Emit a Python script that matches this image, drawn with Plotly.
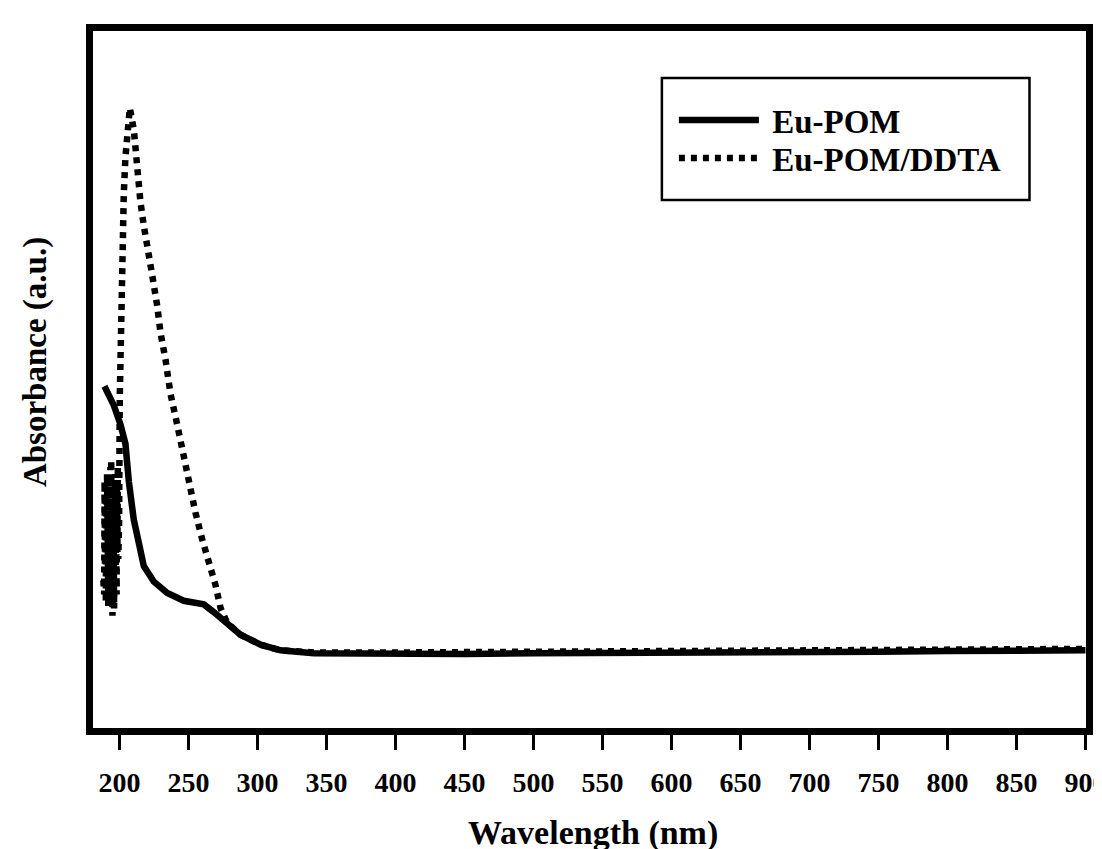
import plotly.graph_objects as go

# ---- data ----
wl_pom = [189.1, 195.9, 200.7, 204.3, 206.8, 210.4, 214.0, 217.6, 224.9, 234.6,
          246.6, 261.1, 268.3, 278.0, 287.7, 302.2, 316.7, 340.8, 400, 450, 500,
          550, 600, 650, 700, 750, 800, 850, 900]
abs_pom = [0.494, 0.467, 0.440, 0.413, 0.359, 0.305, 0.273, 0.240, 0.218, 0.202,
           0.191, 0.186, 0.175, 0.159, 0.143, 0.129, 0.121, 0.117, 0.116, 0.116, 0.117,
           0.117, 0.118, 0.118, 0.119, 0.119, 0.120, 0.120, 0.121]

wl_ddta = [188.3, 188.6, 188.9, 189.2, 189.5, 189.8, 190.1, 190.4, 190.7,
           191.0, 191.3, 191.6, 191.9, 192.2, 192.5, 192.8, 193.1, 193.4, 193.7,
           194.0, 194.3, 194.6, 194.9, 195.2, 195.5, 195.8, 196.1, 196.4, 196.7,
           197.0, 197.3, 197.6, 197.9, 198.2, 198.5, 198.8, 199.1, 199.4, 199.7,
           200.2, 200.7, 201.2, 201.9, 202.7, 203.1, 204.3, 205.6, 207.5, 210.4,
           211.6, 213.3, 215.2, 217.6, 221.2, 223.7, 227.3, 229.7, 233.3, 237.0,
           241.8, 245.4, 250.2, 255.0, 259.9, 264.7, 269.6, 273.2, 278.0, 287.7,
           302.2, 316.7, 340.8, 400, 500, 600, 700, 800, 900]
abs_ddta = [0.22, 0.33, 0.20, 0.36, 0.24, 0.31, 0.19, 0.34, 0.23,
            0.37, 0.21, 0.29, 0.18, 0.35, 0.25, 0.32, 0.20, 0.38, 0.22,
            0.39, 0.19, 0.33, 0.17, 0.36, 0.23, 0.31, 0.18, 0.34, 0.21,
            0.37, 0.24, 0.30, 0.20, 0.35, 0.26, 0.38, 0.25, 0.36, 0.30,
            0.478, 0.548, 0.602, 0.657, 0.710, 0.765, 0.818, 0.856, 0.887, 0.856,
            0.824, 0.786, 0.754, 0.721, 0.684, 0.651, 0.608, 0.570, 0.532, 0.483,
            0.440, 0.403, 0.364, 0.316, 0.278, 0.246, 0.213, 0.181, 0.160, 0.143,
            0.129, 0.121, 0.118, 0.118, 0.119, 0.120, 0.121, 0.122, 0.123]

x_ticks = [200, 250, 300, 350, 400, 450, 500, 550, 600, 650, 700, 750, 800, 850, 900]
series_names = ["Eu-POM", "Eu-POM/DDTA"]
x_title = "Wavelength (nm)"
y_title = "Absorbance (a.u.)"

FONT = "Liberation Serif"
BLACK = "black"

fig = go.Figure()
fig.add_trace(go.Scatter(x=wl_pom, y=abs_pom, mode="lines", name="\u00a0" + series_names[0],
                         legend="legend",
                         line=dict(color=BLACK, width=6.5)))
fig.add_trace(go.Scatter(x=wl_ddta, y=abs_ddta, mode="lines", name="\u00a0" + series_names[1],
                         legend="legend2",
                         line=dict(color=BLACK, width=6.5, dash="6px,6px")))

# legend frame
fig.add_shape(type="rect", xref="paper", yref="paper",
              x0=0.5729, x1=0.9431, y0=0.7575, y1=0.9326,
              line=dict(color=BLACK, width=2.5), fillcolor="rgba(0,0,0,0)")

leg_font = dict(family=FONT, size=33, color=BLACK, weight="bold")

fig.add_annotation(text=y_title, xref="paper", yref="paper", x=-0.0578, y=0.5244,
                   xanchor="center", yanchor="middle", textangle=-90, showarrow=False,
                   font=dict(family=FONT, size=33, color=BLACK, weight="bold"))
fig.add_annotation(text=x_title, xref="paper", yref="paper", x=0.5035, y=-0.151,
                   xanchor="center", yanchor="middle", showarrow=False,
                   font=dict(family=FONT, size=34, color=BLACK, weight="bold"))

fig.update_layout(
    width=1086, height=849,
    paper_bgcolor="white", plot_bgcolor="white",
    margin=dict(l=84.5, r=7.5, t=23, b=129),
    font=dict(family=FONT, color=BLACK),
    showlegend=True,
    legend=dict(x=0.585, y=0.8723, xanchor="left", yanchor="middle",
                borderwidth=0, bgcolor="rgba(0,0,0,0)", font=leg_font, itemwidth=80),
    legend2=dict(x=0.585, y=0.8178, xanchor="left", yanchor="middle",
                 borderwidth=0, bgcolor="rgba(0,0,0,0)", font=leg_font, itemwidth=80),
    xaxis=dict(range=[180.8, 900.4], tickvals=x_ticks, ticktext=[str(v) for v in x_ticks],
               showline=True, linewidth=7, linecolor=BLACK, mirror=True,
               ticks="outside", ticklen=15, tickwidth=3, tickcolor=BLACK,
               ticklabelstandoff=8, ticklabeloverflow="allow",
               showgrid=False, zeroline=False, automargin=False,
               tickfont=dict(family=FONT, size=28, color=BLACK, weight="bold")),
    yaxis=dict(range=[0.0113, 0.9958], showline=True, linewidth=7, linecolor=BLACK,
               mirror=True, showticklabels=False, ticks="", showgrid=False,
               zeroline=False, automargin=False),
)

fig.write_html("out.html")
